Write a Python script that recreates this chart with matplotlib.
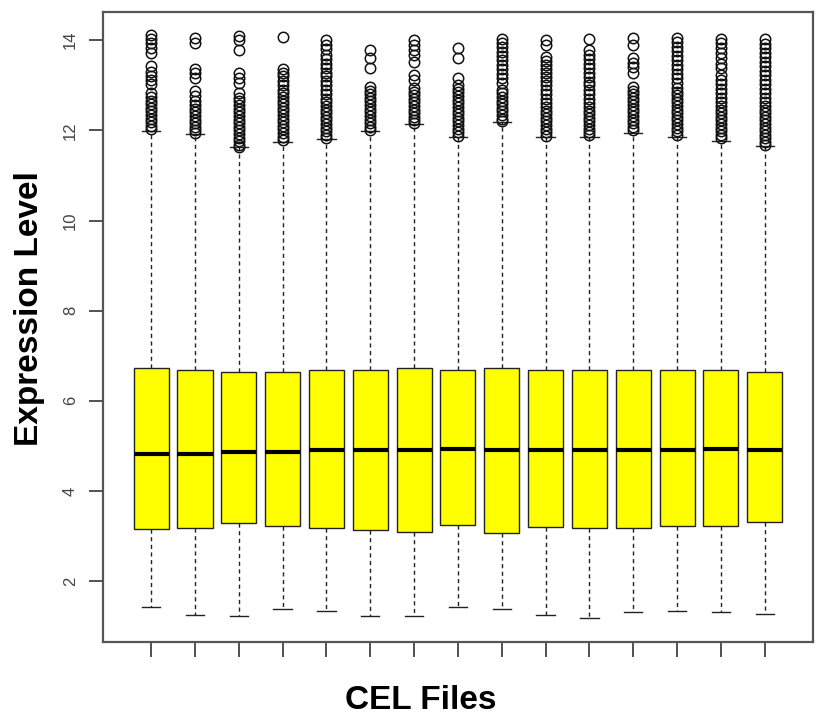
import matplotlib
matplotlib.use("Agg")
import matplotlib.pyplot as plt

# box statistics, one entry per CEL file
q3 = [6.73, 6.69, 6.64, 6.64, 6.68, 6.69, 6.73, 6.69, 6.73, 6.68, 6.68, 6.69, 6.69, 6.68, 6.65]
med = [4.83, 4.82, 4.86, 4.86, 4.90, 4.91, 4.92, 4.94, 4.91, 4.92, 4.91, 4.91, 4.91, 4.94, 4.91]
q1 = [3.15, 3.19, 3.28, 3.23, 3.19, 3.14, 3.09, 3.24, 3.08, 3.21, 3.19, 3.17, 3.23, 3.23, 3.31]
wlo = [1.42, 1.26, 1.23, 1.38, 1.34, 1.22, 1.23, 1.42, 1.38, 1.26, 1.19, 1.31, 1.34, 1.31, 1.27]
whi = [11.99, 11.93, 11.62, 11.75, 11.80, 11.99, 12.15, 11.86, 12.19, 11.86, 11.86, 11.95, 11.85, 11.77, 11.65]

out1 = [14.12, 14.02, 13.93, 13.82, 13.72, 13.42, 13.3, 13.2, 13.12, 13.02, 12.82, 12.74, 12.66,
        12.58, 12.5, 12.42, 12.34, 12.26, 12.18, 12.1, 12.03]
out2 = [14.05, 13.93, 13.37, 13.27, 13.16, 12.88, 12.76, 12.64, 12.56, 12.48, 12.4, 12.32, 12.24,
        12.16, 12.08, 12.0, 11.95]
out3 = [14.1, 14.0, 13.78, 13.27, 13.16, 13.05, 12.82, 12.72, 12.64, 12.56, 12.48, 12.4, 12.32,
        12.24, 12.16, 12.08, 12.0, 11.92, 11.84, 11.76, 11.68, 11.63]
out4 = [14.08, 13.35, 13.28, 13.2, 13.1, 13.0, 12.9, 12.82, 12.74, 12.66, 12.58, 12.5, 12.42,
        12.34, 12.26, 12.18, 12.1, 12.02, 11.94, 11.86, 11.78]
out5 = [14.0, 13.9, 13.8, 13.68, 13.58, 13.48, 13.38, 13.28, 13.2, 13.1, 13.0, 12.9, 12.8, 12.7,
        12.62, 12.54, 12.46, 12.38, 12.3, 12.22, 12.14, 12.06, 11.98, 11.9, 11.83]
out6 = [13.78, 13.6, 13.38, 12.97, 12.88, 12.8, 12.72, 12.64, 12.56, 12.48, 12.4, 12.32, 12.24,
        12.16, 12.08, 12.01]
out7 = [14.0, 13.9, 13.79, 13.68, 13.52, 13.23, 13.12, 12.95, 12.86, 12.78, 12.7, 12.62, 12.54,
        12.46, 12.38, 12.3, 12.22, 12.16]
out8 = [13.83, 13.6, 13.15, 13.0, 12.92, 12.84, 12.76, 12.68, 12.6, 12.52, 12.44, 12.36, 12.28,
        12.2, 12.12, 12.04, 11.96, 11.88]
out9 = [14.03, 13.93, 13.84, 13.74, 13.65, 13.55, 13.45, 13.35, 13.25, 13.15, 13.05, 12.9, 12.82,
        12.74, 12.66, 12.58, 12.5, 12.42, 12.34, 12.26, 12.2]
out10 = [14.0, 13.9, 13.63, 13.54, 13.45, 13.36, 13.27, 13.18, 13.09, 13.0, 12.9, 12.8, 12.7,
         12.6, 12.52, 12.44, 12.36, 12.28, 12.2, 12.12, 12.04, 11.96, 11.88]
out11 = [14.03, 13.78, 13.68, 13.58, 13.48, 13.38, 13.28, 13.18, 13.08, 13.0, 12.9, 12.8, 12.7,
         12.6, 12.52, 12.44, 12.36, 12.28, 12.2, 12.12, 12.04, 11.96, 11.9]
out12 = [14.04, 13.9, 13.6, 13.5, 13.4, 13.28, 12.97, 12.88, 12.8, 12.72, 12.64, 12.56, 12.48,
         12.4, 12.32, 12.24, 12.16, 12.08, 12.0]
out13 = [14.05, 13.95, 13.85, 13.75, 13.65, 13.55, 13.45, 13.35, 13.25, 13.15, 13.05, 12.95,
         12.86, 12.78, 12.7, 12.62, 12.54, 12.46, 12.38, 12.3, 12.22, 12.14, 12.06, 11.98, 11.9]
out14 = [14.03, 13.93, 13.82, 13.72, 13.6, 13.48, 13.38, 13.22, 13.12, 13.02, 12.92, 12.82,
         12.72, 12.62, 12.54, 12.46, 12.38, 12.3, 12.22, 12.14, 12.06, 11.98, 11.9, 11.82]
out15 = [14.02, 13.92, 13.82, 13.72, 13.62, 13.52, 13.42, 13.32, 13.22, 13.12, 13.02, 12.92,
         12.82, 12.72, 12.62, 12.54, 12.46, 12.38, 12.3, 12.22, 12.14, 12.06, 11.98, 11.9, 11.82,
         11.74, 11.68]
outliers = [out1, out2, out3, out4, out5, out6, out7, out8, out9, out10,
            out11, out12, out13, out14, out15]

yticks = [2, 4, 6, 8, 10, 12, 14]

stats = []
for i in range(len(med)):
    stats.append(dict(med=med[i], q1=q1[i], q3=q3[i], whislo=wlo[i], whishi=whi[i],
                      fliers=outliers[i]))

plt.rcParams['font.family'] = ['Liberation Sans', 'DejaVu Sans']

fig = plt.figure(figsize=(8.17, 7.19), dpi=100)
ax = fig.add_axes([0.126, 0.107, 0.869, 0.876])

pos = list(range(1, len(med) + 1))
ax.bxp(stats, positions=pos, widths=0.8, patch_artist=True, showfliers=True,
       boxprops=dict(facecolor='#ffff00', edgecolor='#222222', linewidth=1.0),
       medianprops=dict(color='black', linewidth=3),
       whiskerprops=dict(color='#222222', linewidth=1.0, linestyle=(0, (3, 2.5))),
       capprops=dict(color='#222222', linewidth=1.0),
       capwidths=0.42,
       flierprops=dict(marker='o', markerfacecolor='none', markeredgecolor='#111111',
                       markersize=7.5, markeredgewidth=1.1))

ax.set_xlim(-0.1, 16.1)
ax.set_ylim(0.65, 14.62)
ax.set_yticks(yticks)
ax.set_yticklabels([str(t) for t in yticks], rotation=90, va='center', color='#444444',
                   fontsize=12)
ax.set_xticks(pos)
ax.set_xticklabels([])
ax.tick_params(axis='y', length=10, width=1.2, color='#333333', pad=8)
ax.tick_params(axis='x', length=11, width=1.2, color='#333333')
for s in ax.spines.values():
    s.set_color('#555555')
    s.set_linewidth(1.6)

ax.set_ylabel("Expression Level", fontsize=24, fontweight='bold', va='center')
ax.set_xlabel("CEL Files", fontsize=24, fontweight='bold', va='center')
ax.yaxis.set_label_coords(-0.103, 0.53)
ax.xaxis.set_label_coords(0.448, -0.092)

fig.savefig("out.png", dpi=100)
